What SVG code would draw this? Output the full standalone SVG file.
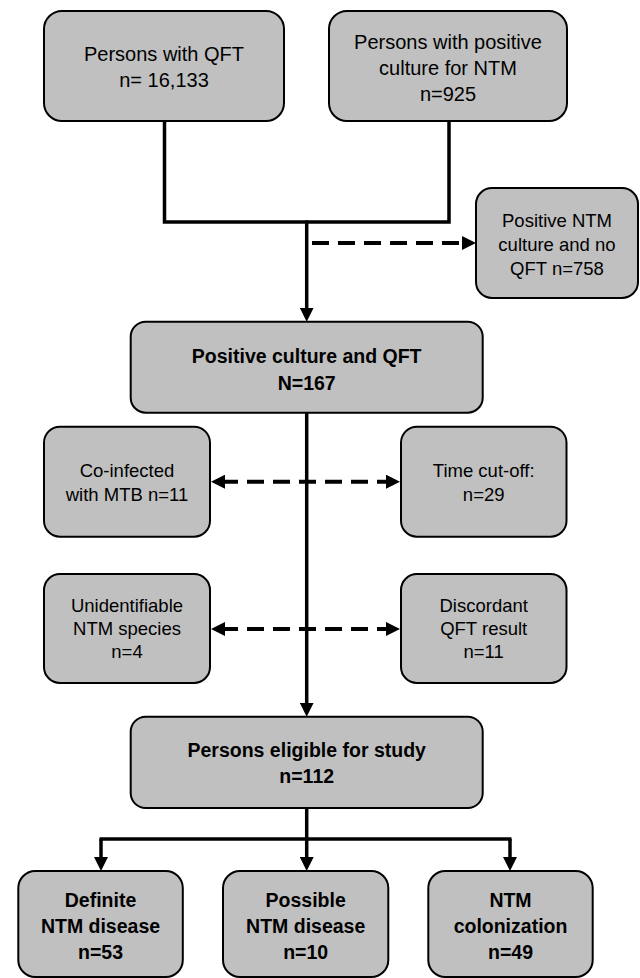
<svg xmlns="http://www.w3.org/2000/svg" width="640" height="978" viewBox="0 0 640 978">
<style>
.box{fill:#c0c0c0;stroke:#000;stroke-width:2}
.t{font-family:"Liberation Sans",Arial,sans-serif;fill:#000;text-anchor:middle}
.r20{font-size:20px}
.r18{font-size:18.5px}
.b{font-size:19.5px;font-weight:bold}
.ln{fill:none;stroke:#000;stroke-width:3.5}
.dash{fill:none;stroke:#000;stroke-width:4;stroke-dasharray:17 9}
</style>
<defs>
<marker id="ah" viewBox="0 0 14 14" refX="4" refY="7" markerWidth="14" markerHeight="14" markerUnits="userSpaceOnUse" orient="auto-start-reverse">
<path d="M0,0 L14,7 L0,14 z" fill="#000"/>
</marker>
</defs>
<rect width="640" height="978" fill="#fff"/>
<g id="connectors">
<path class="ln" d="M164.5,121 V222 H449 V121"/>
<path class="ln" d="M306.7,220.5 V311.7" marker-end="url(#ah)"/>
<path class="dash" d="M312,243 H466" marker-end="url(#ah)"/>
<path class="ln" d="M306.7,412.7 V706.7" marker-end="url(#ah)"/>
<path class="dash" d="M221,481.7 H390" marker-start="url(#ah)" marker-end="url(#ah)"/>
<path class="dash" d="M221,629 H390" marker-start="url(#ah)" marker-end="url(#ah)"/>
<path class="ln" d="M306.7,808 V839"/>
<path class="ln" d="M99.5,839 H511.5"/>
<path class="ln" d="M101,839 V861" marker-end="url(#ah)"/>
<path class="ln" d="M306.7,839 V861" marker-end="url(#ah)"/>
<path class="ln" d="M510,839 V861" marker-end="url(#ah)"/>
</g>
<g id="qft">
<rect class="box" x="44" y="11" width="240" height="110" rx="18"/>
<text class="t r20" x="164" y="61">Persons with QFT</text>
<text class="t r20" x="164" y="87">n= 16,133</text>
</g>
<g id="ntm">
<rect class="box" x="329" y="11" width="238" height="110" rx="18"/>
<text class="t r20" x="448" y="49">Persons with positive</text>
<text class="t r20" x="448" y="75">culture for NTM</text>
<text class="t r20" x="448" y="101">n=925</text>
</g>
<g id="noqft">
<rect class="box" x="476" y="188" width="162" height="110" rx="16"/>
<text class="t r18" x="557" y="227">Positive NTM</text>
<text class="t r18" x="557" y="251">culture and no</text>
<text class="t r18" x="557" y="275">QFT n=758</text>
</g>
<g id="both">
<rect class="box" x="130.7" y="321.7" width="352" height="91" rx="15"/>
<text class="t b" x="306.7" y="363">Positive culture and QFT</text>
<text class="t b" x="306.7" y="390">N=167</text>
</g>
<g id="coinf">
<rect class="box" x="44" y="426.7" width="166" height="110" rx="16"/>
<text class="t r18" x="127" y="477">Co-infected</text>
<text class="t r18" x="127" y="501">with MTB n=11</text>
</g>
<g id="timecut">
<rect class="box" x="401" y="426.7" width="165.5" height="110" rx="16"/>
<text class="t r18" x="483.7" y="477">Time cut-off:</text>
<text class="t r18" x="483.7" y="501">n=29</text>
</g>
<g id="unident">
<rect class="box" x="44" y="574" width="166" height="109" rx="16"/>
<text class="t r18" x="127" y="612">Unidentifiable</text>
<text class="t r18" x="127" y="635">NTM species</text>
<text class="t r18" x="127" y="658">n=4</text>
</g>
<g id="discord">
<rect class="box" x="401" y="574" width="165.5" height="109" rx="16"/>
<text class="t r18" x="483.7" y="612">Discordant</text>
<text class="t r18" x="483.7" y="635">QFT result</text>
<text class="t r18" x="483.7" y="658">n=11</text>
</g>
<g id="eligible">
<rect class="box" x="130.7" y="716.7" width="352" height="91.3" rx="15"/>
<text class="t b" x="306.7" y="757">Persons eligible for study</text>
<text class="t b" x="306.7" y="783">n=112</text>
</g>
<g id="definite">
<rect class="box" x="18.3" y="871" width="164.5" height="106" rx="17"/>
<text class="t b" x="100.5" y="907">Definite</text>
<text class="t b" x="100.5" y="933">NTM disease</text>
<text class="t b" x="100.5" y="959">n=53</text>
</g>
<g id="possible">
<rect class="box" x="223" y="871" width="165.3" height="106" rx="17"/>
<text class="t b" x="305.7" y="907">Possible</text>
<text class="t b" x="305.7" y="933">NTM disease</text>
<text class="t b" x="305.7" y="959">n=10</text>
</g>
<g id="colonization">
<rect class="box" x="428.3" y="871" width="164.4" height="106" rx="17"/>
<text class="t b" x="510.5" y="907">NTM</text>
<text class="t b" x="510.5" y="933">colonization</text>
<text class="t b" x="510.5" y="959">n=49</text>
</g>
</svg>
